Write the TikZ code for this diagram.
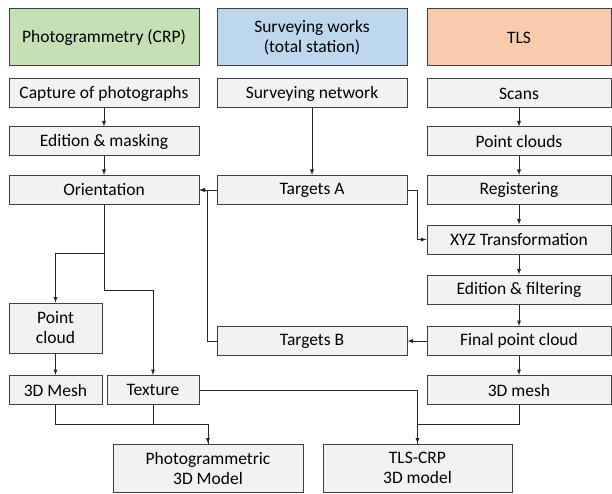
\documentclass[tikz,border=0pt]{standalone}
\usepackage{fontspec}
\setmainfont{Carlito}
\usetikzlibrary{arrows}
\tikzset{>=latex}
\definecolor{crpgreen}{HTML}{C5E0B4}
\definecolor{tsblue}{HTML}{BDD7EE}
\definecolor{tlsorange}{HTML}{F8CBAD}
\definecolor{boxgray}{HTML}{F2F2F2}
\definecolor{edgegray}{HTML}{404040}

\begin{document}
\begin{tikzpicture}[x=1pt,y=-1pt,
  every node/.style={font=\fontsize{17.5}{20}\selectfont},
  head/.style={draw=edgegray,line width=1pt,minimum width=190pt,minimum height=57pt,align=center,inner sep=0pt},
  task/.style={draw=edgegray,line width=1pt,fill=boxgray,minimum width=190pt,minimum height=29pt,align=center,inner sep=0pt},
  link/.style={line width=0.9pt,draw=black!85}]
  \useasboundingbox (0,0) rectangle (612,494);

  % Headers
  \node[head,fill=crpgreen] (crp) at (104,37.5) {Photogrammetry (CRP)};
  \node[head,fill=tsblue] (survey) at (312,37.5) {Surveying works\\(total station)};
  \node[head,fill=tlsorange,minimum width=184pt] (tls) at (519,37.5) {TLS};

  % Photogrammetry column
  \node[task] (capture) at (104,93.5) {Capture of photographs};
  \node[task] (edition) at (104,141.5) {Edition \& masking};
  \node[task] (orient) at (104,190) {Orientation};
  \node[task,minimum width=93pt,minimum height=50pt] (pcloud) at (55.5,328) {Point\\cloud};
  \node[task,minimum width=93pt] (mesh3d) at (55.5,390) {3D Mesh};
  \node[task,minimum width=92pt] (texture) at (153,390) {Texture};
  \node[task,minimum height=48pt] (photomodel) at (208,468) {Photogrammetric\\3D Model};

  % Surveying column
  \node[task] (network) at (312,93.5) {Surveying network};
  \node[task] (targetsA) at (312,190) {Targets A};
  \node[task] (targetsB) at (312,341) {Targets B};
  \node[task,minimum width=189pt,minimum height=48pt] (tlscrp) at (417.5,468) {TLS-CRP\\3D model};

  % TLS column
  \node[task,minimum width=184pt] (scans) at (519,93.5) {Scans};
  \node[task,minimum width=184pt] (pclouds) at (519,141.5) {Point clouds};
  \node[task,minimum width=184pt] (register) at (519,190) {Registering};
  \node[task,minimum width=184pt] (xyz) at (519,239.5) {XYZ Transformation};
  \node[task,minimum width=184pt] (efilter) at (519,289.5) {Edition \& filtering};
  \node[task,minimum width=184pt] (final) at (519,341) {Final point cloud};
  \node[task,minimum width=184pt] (mesh) at (519,390) {3D mesh};

  % Straight links
  \draw[link,->] (capture) -- (edition);
  \draw[link,->] (edition) -- (orient);
  \draw[link,->] (network) -- (targetsA);
  \draw[link,->] (scans) -- (pclouds);
  \draw[link,->] (pclouds) -- (register);
  \draw[link,->] (register) -- (xyz);
  \draw[link,->] (xyz) -- (efilter);
  \draw[link,->] (efilter) -- (final);
  \draw[link,->] (final) -- (mesh);
  \draw[link,->] (final) -- (targetsB);
  \draw[link,->] (targetsA) -- (orient);
  \draw[link,->] (pcloud) -- (mesh3d);

  % Elbow links
  \draw[link,->] (targetsA.east) -- ++(10,0) |- (xyz.west);
  \draw[link,->] (targetsB.west) -- ++(-9,0) |- (orient.east);
  \draw[link,->] (orient.south) -- ++(0,48) -| (pcloud.north);
  \draw[link,->] (orient.south) -- ++(0,85) -| (texture.north);
  \draw[link,->] (mesh3d.south) -- ++(0,19) -| (photomodel.north);
  \draw[link] (texture.south) -- ++(0,19) -| (photomodel.north);
  \draw[link,->] (texture.east) -| (tlscrp.north);
  \draw[link] (mesh.south) -- ++(0,19) -| (tlscrp.north);
\end{tikzpicture}
\end{document}
